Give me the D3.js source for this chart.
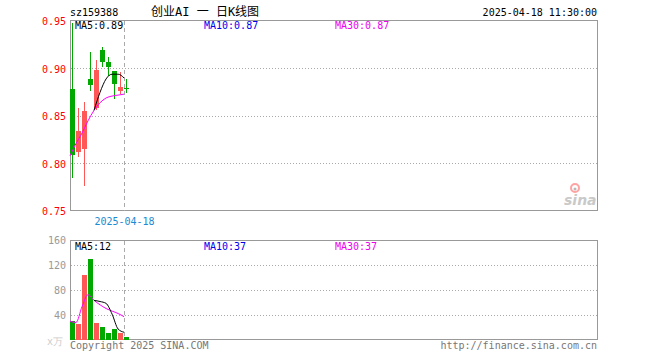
<!DOCTYPE html>
<html>
<head>
<meta charset="utf-8">
<script src="https://cdn.jsdelivr.net/npm/d3@7"></script>
<style>
body{margin:0;background:#fff;}
svg text{font-family:"DejaVu Sans Mono",monospace;font-size:10px;}
</style>
</head>
<body>
<div id="chart"></div>
<script>
// daily candles, 159388
const dates = ["2025-04-07","2025-04-08","2025-04-09","2025-04-10","2025-04-11","2025-04-14","2025-04-15","2025-04-16","2025-04-17","2025-04-18"]
const open  = [0.878,0.812,0.815,0.889,0.858,0.919,0.907,0.897,0.877,0.879]
const high  = [0.948,0.858,0.865,0.917,0.909,0.923,0.912,0.897,0.896,0.889]
const low   = [0.785,0.806,0.777,0.876,0.856,0.902,0.892,0.868,0.873,0.874]
const close = [0.808,0.834,0.855,0.883,0.898,0.906,0.902,0.883,0.881,0.878]
const ma5   = [null,null,null,null,0.856,0.875,0.889,0.894,0.894,0.890]
const ma30  = [0.808,0.821,0.832,0.845,0.856,0.864,0.869,0.871,0.872,0.873]
const volume  = [30,26,104,130,27,21,11,18,11,5]
const volMa5  = [null,null,null,null,63.4,61.6,58.6,41.4,17.6,12.4]
const volMa30 = [30,28,53.3,72.5,63.4,56.3,50.4,46.3,42.4,37.2]
const priceTicks = [0.95,0.90,0.85,0.80,0.75]
const volTicks = [160,120,80,40]

const W = 660, H = 360
const red = "#ff5656", green = "#00a800"

const svg = d3.select("#chart").append("svg").attr("width",W).attr("height",H)

const x = d3.scaleBand().domain(d3.range(88)).range([70,598]).paddingInner(1/6).paddingOuter(0).align(0)
const y = d3.scaleLinear().domain([0.75,0.95]).range([211,21])
const yv = d3.scaleLinear().domain([0,160]).range([340,240])
const bw = x.bandwidth()
const idx = d3.range(dates.length)
const up = i => close[i] >= open[i]

// header
svg.append("text").attr("x",70).attr("y",16).text("sz159388")
svg.append("text").attr("x",151).attr("y",16)
	.style("font-family","'DejaVu Sans Mono','Noto Sans CJK SC',monospace").style("font-size","12px")
	.text("创业AI 一 日K线图")
svg.append("text").attr("x",597).attr("y",16).attr("text-anchor","end").text("2025-04-18 11:30:00")

// gridlines
const grid = svg.append("g").attr("stroke","#aaa").attr("stroke-dasharray","1,2")
grid.selectAll(null).data(priceTicks.slice(1,-1)).enter().append("line")
	.attr("x1",71).attr("x2",599).attr("y1",d=>Math.round(y(d))+0.5).attr("y2",d=>Math.round(y(d))+0.5)
grid.selectAll(null).data(volTicks.slice(1)).enter().append("line")
	.attr("x1",71).attr("x2",599).attr("y1",d=>Math.round(yv(d))+0.5).attr("y2",d=>Math.round(yv(d))+0.5)

// frames
svg.append("rect").attr("x",70.5).attr("y",20.5).attr("width",527).attr("height",190)
	.attr("fill","none").attr("stroke","#999")
svg.append("rect").attr("x",70.5).attr("y",240.5).attr("width",527).attr("height",99)
	.attr("fill","none").attr("stroke","#999")

// price labels
svg.selectAll(null).data(priceTicks).enter().append("text")
	.attr("x",66).attr("y",d=>y(d)+4).attr("text-anchor","end").attr("fill","#ff0000")
	.text(d=>d.toFixed(2))
svg.selectAll(null).data(volTicks).enter().append("text")
	.attr("x",66).attr("y",d=>yv(d)+4).attr("text-anchor","end").attr("fill","#999")
	.text(d=>d)
svg.append("text").attr("x",63).attr("y",345).attr("text-anchor","end").attr("fill","#ccc").text("x万")

// crosshair on last day
const lastX = Math.round(x(dates.length-1))+0.5
svg.selectAll(null).data([[21,211],[241,340]]).enter().append("line")
	.attr("x1",lastX).attr("x2",lastX).attr("y1",d=>d[0]).attr("y2",d=>d[1])
	.attr("stroke","#aaa").attr("stroke-dasharray","4,3")
svg.append("text").attr("x",lastX).attr("y",225).attr("text-anchor","middle").attr("fill","#1a8ad4")
	.text(dates[dates.length-1])

// sina watermark
const logo = svg.append("g").attr("opacity",0.45)
logo.append("circle").attr("cx",575).attr("cy",188).attr("r",4).attr("fill","none").attr("stroke","#f33").attr("stroke-width",2)
logo.append("circle").attr("cx",575).attr("cy",189).attr("r",1.5).attr("fill","#666")
logo.append("text").attr("x",564).attr("y",205).style("font-family","'DejaVu Sans',sans-serif")
	.style("font-size","14px").style("font-style","italic").style("font-weight","bold").attr("fill","#888").text("sina")

// candles
const candles = svg.append("g").attr("shape-rendering","crispEdges")
candles.selectAll(null).data(idx).enter().append("rect")
	.attr("x",i=>Math.round(x(i)+bw/2-0.5)).attr("width",1)
	.attr("y",i=>Math.round(y(high[i]))).attr("height",i=>Math.max(1,Math.round(y(low[i])-y(high[i]))))
	.attr("fill",i=>up(i)?red:green)
candles.selectAll(null).data(idx).enter().append("rect")
	.attr("x",i=>Math.round(x(i))).attr("width",bw)
	.attr("y",i=>Math.round(y(Math.max(open[i],close[i]))))
	.attr("height",i=>Math.max(1,Math.round(Math.abs(y(open[i])-y(close[i])))))
	.attr("fill",i=>up(i)?red:green)

// volume bars
svg.append("g").attr("shape-rendering","crispEdges").selectAll(null).data(idx).enter().append("rect")
	.attr("x",i=>Math.round(x(i))).attr("width",bw)
	.attr("y",i=>Math.round(yv(volume[i]))).attr("height",i=>340-Math.round(yv(volume[i])))
	.attr("fill",i=>up(i)?red:green)

// moving averages
const maLine = (arr,ys) => d3.line().defined(i=>arr[i]!=null).x(i=>x(i)).y(i=>ys(arr[i])).curve(d3.curveMonotoneX)(idx)
svg.append("path").attr("d",maLine(ma30,y)).attr("fill","none").attr("stroke","#ff00ff")
svg.append("path").attr("d",maLine(ma5,y)).attr("fill","none").attr("stroke","#000")
svg.append("path").attr("d",maLine(volMa30,yv)).attr("fill","none").attr("stroke","#ff00ff")
svg.append("path").attr("d",maLine(volMa5,yv)).attr("fill","none").attr("stroke","#000")

// MA legends
const legend = (yy,vals) => {
	svg.append("text").attr("x",75).attr("y",yy).attr("fill","#000").text("MA5:"+vals[0])
	svg.append("text").attr("x",204).attr("y",yy).attr("fill","#0000ee").text("MA10:"+vals[1])
	svg.append("text").attr("x",335).attr("y",yy).attr("fill","#ee00ee").text("MA30:"+vals[2])
}
legend(29,["0.89","0.87","0.87"])
legend(250,["12","37","37"])

// footer
svg.append("text").attr("x",70).attr("y",349).attr("fill","#777").text("Copyright 2025 SINA.COM")
svg.append("text").attr("x",597).attr("y",349).attr("text-anchor","end").attr("fill","#777").text("http://finance.sina.com.cn")
</script>
</body>
</html>
